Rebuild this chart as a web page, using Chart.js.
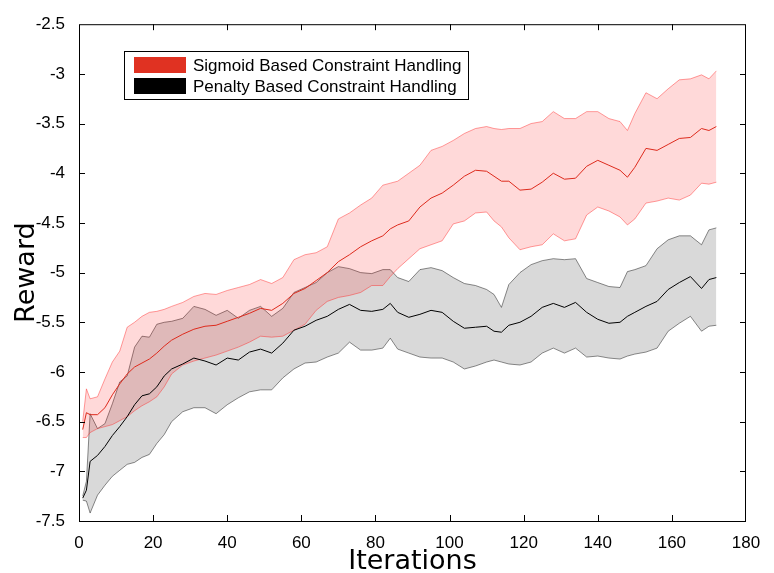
<!DOCTYPE html>
<html>
<head>
<meta charset="utf-8">
<script src="https://cdn.jsdelivr.net/npm/chart.js@4.4.0/dist/chart.umd.min.js"></script>
<style>
  html, body { margin: 0; padding: 0; background: #fff; }
  canvas { display: block; }
</style>
</head>
<body>
<canvas id="rewardChart" width="774" height="573"></canvas>
<script>
// iterations sampled along the x axis
const iterations = [1, 2, 3, 5, 7, 9, 11, 13, 15, 17, 19, 21, 23, 25,
  28, 31, 34, 37, 40, 43, 46, 49, 52, 55, 58, 61, 64, 67, 70, 73, 76, 79, 82,
  84, 86, 89, 92, 95, 98, 101, 104, 107, 110, 112, 114, 116,
  119, 122, 125, 128, 131, 134, 137, 140, 143, 146, 148, 150,
  153, 156, 159, 162, 165, 168, 170, 172];

// Sigmoid based constraint handling (red)
const sigmoidMean = [-6.58, -6.41, -6.43, -6.43, -6.36, -6.23, -6.12, -6.02, -5.95, -5.91, -5.87, -5.81, -5.74, -5.68,
  -5.62, -5.57, -5.54, -5.53, -5.49, -5.45, -5.41, -5.36, -5.38, -5.31, -5.21, -5.16, -5.08, -5.00, -4.89, -4.82, -4.74, -4.68, -4.63,
  -4.56, -4.52, -4.48, -4.34, -4.25, -4.20, -4.12, -4.03, -3.97, -3.98, -4.03, -4.08, -4.08,
  -4.17, -4.16, -4.09, -4.00, -4.06, -4.05, -3.93, -3.87, -3.92, -3.97, -4.04, -3.94,
  -3.75, -3.77, -3.71, -3.65, -3.64, -3.55, -3.57, -3.53];
const sigmoidUpper = [-6.50, -6.17, -6.27, -6.25, -6.07, -5.90, -5.79, -5.55, -5.50, -5.44, -5.40, -5.39, -5.37, -5.34,
  -5.30, -5.24, -5.21, -5.22, -5.18, -5.15, -5.12, -5.07, -5.11, -5.05, -4.87, -4.82, -4.80, -4.74, -4.46, -4.40, -4.32, -4.25, -4.12,
  -4.10, -4.08, -4.00, -3.92, -3.77, -3.73, -3.67, -3.60, -3.55, -3.53, -3.55, -3.56, -3.55,
  -3.55, -3.50, -3.48, -3.38, -3.45, -3.45, -3.38, -3.38, -3.45, -3.48, -3.57, -3.40,
  -3.19, -3.25, -3.15, -3.06, -3.05, -3.01, -3.05, -2.97];
const sigmoidLower = [-6.66, -6.66, -6.61, -6.57, -6.55, -6.53, -6.49, -6.45, -6.39, -6.34, -6.30, -6.25, -6.15, -6.02,
  -5.93, -5.89, -5.86, -5.83, -5.79, -5.75, -5.70, -5.64, -5.65, -5.64, -5.58, -5.52, -5.38, -5.29, -5.25, -5.23, -5.20, -5.13, -5.13,
  -5.04, -4.96, -4.86, -4.76, -4.72, -4.68, -4.51, -4.48, -4.40, -4.39, -4.48, -4.54, -4.65,
  -4.77, -4.74, -4.72, -4.61, -4.68, -4.66, -4.42, -4.34, -4.38, -4.44, -4.52, -4.46,
  -4.30, -4.28, -4.25, -4.27, -4.22, -4.10, -4.11, -4.09];

// Penalty based constraint handling (black)
const penaltyMean = [-7.27, -7.19, -6.90, -6.84, -6.75, -6.64, -6.55, -6.45, -6.33, -6.24, -6.22, -6.15, -6.04, -5.97,
  -5.92, -5.86, -5.89, -5.93, -5.86, -5.88, -5.80, -5.77, -5.81, -5.71, -5.58, -5.54, -5.48, -5.44, -5.37, -5.32, -5.38, -5.39, -5.37,
  -5.31, -5.40, -5.45, -5.42, -5.38, -5.40, -5.49, -5.56, -5.55, -5.54, -5.59, -5.60, -5.53,
  -5.50, -5.44, -5.35, -5.31, -5.35, -5.30, -5.40, -5.47, -5.51, -5.50, -5.44, -5.40,
  -5.34, -5.29, -5.17, -5.10, -5.04, -5.16, -5.07, -5.05];
const penaltyUpper = [-7.25, -7.10, -6.42, -6.57, -6.52, -6.32, -6.10, -6.04, -5.75, -5.64, -5.65, -5.52, -5.50, -5.49,
  -5.46, -5.34, -5.37, -5.43, -5.38, -5.46, -5.38, -5.34, -5.44, -5.36, -5.20, -5.15, -5.10, -5.00, -4.94, -4.96, -5.00, -5.01, -4.97,
  -4.97, -5.05, -5.09, -4.97, -4.95, -4.98, -5.05, -5.11, -5.13, -5.17, -5.22, -5.35, -5.12,
  -5.00, -4.92, -4.88, -4.86, -4.87, -4.86, -5.06, -5.10, -5.14, -5.15, -4.99, -4.97,
  -4.93, -4.76, -4.67, -4.63, -4.63, -4.72, -4.57, -4.55];
const penaltyLower = [-7.29, -7.30, -7.42, -7.24, -7.14, -7.05, -6.99, -6.93, -6.91, -6.86, -6.83, -6.72, -6.63, -6.50,
  -6.40, -6.36, -6.36, -6.42, -6.33, -6.26, -6.20, -6.18, -6.18, -6.06, -5.97, -5.91, -5.90, -5.85, -5.81, -5.70, -5.78, -5.78, -5.76,
  -5.66, -5.77, -5.81, -5.85, -5.86, -5.86, -5.90, -5.97, -5.94, -5.90, -5.88, -5.90, -5.92,
  -5.93, -5.90, -5.81, -5.76, -5.81, -5.76, -5.85, -5.84, -5.86, -5.87, -5.84, -5.82,
  -5.80, -5.76, -5.59, -5.51, -5.44, -5.59, -5.54, -5.53];

const legendLabels = ['Sigmoid Based Constraint Handling', 'Penalty Based Constraint Handling'];
const legendColors = ['#e03222', '#000000'];

const toPoints = (vals) => iterations.map((x, i) => ({ x: x, y: vals[i] }));

const tickFont = { family: '"Liberation Sans", Arial, sans-serif', size: 17 };
const titleFont = { family: '"DejaVu Sans", sans-serif', size: 27, lineHeight: 0.8 };

// box frame with inward ticks on all four sides
const frameTicks = {
  id: 'frameTicks',
  afterDatasetsDraw(chart) {
    const { ctx, chartArea: a, scales: { x, y } } = chart;
    const len = 6;
    ctx.save();
    ctx.strokeStyle = '#000';
    ctx.lineWidth = 1;
    ctx.beginPath();
    x.ticks.forEach(t => {
      if (t.value <= x.min || t.value >= x.max) return;
      const px = Math.round(x.getPixelForValue(t.value)) + 0.5;
      ctx.moveTo(px, a.bottom); ctx.lineTo(px, a.bottom - len);
      ctx.moveTo(px, a.top); ctx.lineTo(px, a.top + len);
    });
    y.ticks.forEach(t => {
      if (t.value <= y.min || t.value >= y.max) return;
      const py = Math.round(y.getPixelForValue(t.value)) + 0.5;
      ctx.moveTo(a.left, py); ctx.lineTo(a.left + len, py);
      ctx.moveTo(a.right, py); ctx.lineTo(a.right - len, py);
    });
    ctx.stroke();
    ctx.strokeRect(a.left + 0.5, a.top + 0.5, a.right - a.left - 1, a.bottom - a.top);
    ctx.restore();
  }
};

// legend box inside the plot, upper left
const boxLegend = {
  id: 'boxLegend',
  afterDraw(chart) {
    const ctx = chart.ctx;
    ctx.save();
    ctx.fillStyle = '#fff';
    ctx.fillRect(124, 51, 344, 49);
    ctx.strokeStyle = '#000';
    ctx.lineWidth = 1;
    ctx.strokeRect(124.5, 51.5, 344, 48);
    ctx.font = '17px "Liberation Sans", Arial, sans-serif';
    ctx.textBaseline = 'middle';
    legendLabels.forEach((label, i) => {
      const rowY = 57 + i * 21;
      ctx.fillStyle = legendColors[i];
      ctx.fillRect(134, rowY, 52, 16);
      ctx.fillStyle = '#000';
      ctx.fillText(label, 193, rowY + 9);
    });
    ctx.restore();
  }
};

const ctx = document.getElementById('rewardChart').getContext('2d');

const rewardChart = new Chart(ctx, {
  type: 'line',
  data: {
    datasets: [
      { label: 'penalty lower', data: toPoints(penaltyLower), borderColor: 'rgba(0,0,0,0.45)', borderWidth: 1, fill: false, order: 6 },
      { label: 'penalty upper', data: toPoints(penaltyUpper), borderColor: 'rgba(0,0,0,0.45)', borderWidth: 1,
        backgroundColor: 'rgba(0,0,0,0.15)', fill: '-1', order: 5 },
      { label: 'sigmoid lower', data: toPoints(sigmoidLower), borderColor: 'rgba(255,40,40,0.45)', borderWidth: 1, fill: false, order: 4 },
      { label: 'sigmoid upper', data: toPoints(sigmoidUpper), borderColor: 'rgba(255,40,40,0.45)', borderWidth: 1,
        backgroundColor: 'rgba(255,0,0,0.15)', fill: '-1', order: 3 },
      { label: legendLabels[1], data: toPoints(penaltyMean), borderColor: '#000', borderWidth: 1, fill: false, order: 2 },
      { label: legendLabels[0], data: toPoints(sigmoidMean), borderColor: '#dd2a1c', borderWidth: 1, fill: false, order: 1 }
    ]
  },
  options: {
    responsive: false,
    animation: false,
    maintainAspectRatio: false,
    layout: { padding: { top: 18, right: 28, bottom: 0, left: 0 } },
    elements: { point: { radius: 0 }, line: { tension: 0 } },
    plugins: { legend: { display: false }, tooltip: { enabled: false } },
    scales: {
      x: {
        type: 'linear', min: 0, max: 180,
        ticks: { stepSize: 20, padding: 12, color: '#000', font: tickFont, maxRotation: 0 },
        grid: { display: false, drawTicks: false },
        border: { display: false },
        title: { display: true, text: 'Iterations', color: '#000', font: titleFont, padding: 0 },
        afterFit(scale) { scale.height = 52; }
      },
      y: {
        min: -7.5, max: -2.5,
        ticks: {
          stepSize: 0.5, padding: 14, color: '#000', font: tickFont,
          callback: (value) => String(Number(value.toFixed(2)))
        },
        grid: { display: false, drawTicks: false },
        border: { display: false },
        title: { display: true, text: 'Reward', color: '#000', font: titleFont, padding: { top: 16, bottom: 0 } },
        afterFit(scale) { scale.width = 79; }
      }
    }
  },
  plugins: [frameTicks, boxLegend]
});
</script>
</body>
</html>
